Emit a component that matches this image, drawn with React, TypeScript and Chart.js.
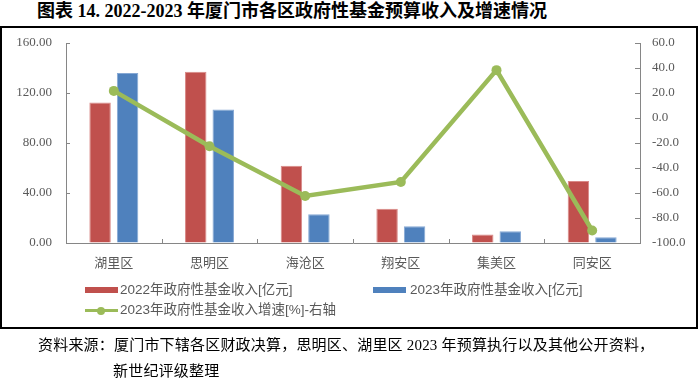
import React, { useEffect, useRef } from "react";
import { Chart, registerables } from "chart.js";

Chart.register(...registerables);

const categories = ["湖里区", "思明区", "海沧区", "翔安区", "集美区", "同安区"];
const revenue2022 = [112.4, 137.0, 61.9, 27.4, 6.8, 49.6];
const revenue2023 = [136.0, 106.8, 23.1, 13.5, 9.5, 4.7];
const growth2023 = [21.7, -22.6, -62.4, -51.2, 38.3, -90.0];

const label2022 = "2022年政府性基金收入[亿元]";
const label2023 = "2023年政府性基金收入[亿元]";
const labelGrowth = "2023年政府性基金收入增速[%]-右轴";

const RED = "#C0504D";
const BLUE = "#4F81BD";
const GREEN = "#9BBB59";
const AXIS = "#868686";
const TEXT = "#595959";

const tickPlugin = {
  id: "innerTicks",
  afterDraw(chart: any) {
    const ctx = chart.ctx;
    const { left, right, bottom } = chart.chartArea;
    ctx.save();
    ctx.strokeStyle = AXIS;
    ctx.lineWidth = 1;
    ctx.beginPath();
    const y = chart.scales.y;
    y.ticks.forEach((t: any) => {
      const py = Math.round(y.getPixelForValue(t.value)) + 0.5;
      ctx.moveTo(left, py);
      ctx.lineTo(left + 4, py);
    });
    const y1 = chart.scales.y1;
    y1.ticks.forEach((t: any) => {
      const py = Math.round(y1.getPixelForValue(t.value)) + 0.5;
      ctx.moveTo(right - 5, py);
      ctx.lineTo(right, py);
    });
    const x = chart.scales.x;
    for (let i = 1; i < categories.length; i++) {
      const px = Math.round((x.getPixelForValue(i - 1) + x.getPixelForValue(i)) / 2) + 0.5;
      ctx.moveTo(px, bottom - 4);
      ctx.lineTo(px, bottom);
    }
    ctx.stroke();
    ctx.restore();
  },
};

export default function App() {
  const ref = useRef<HTMLCanvasElement | null>(null);

  useEffect(() => {
    if (!ref.current) return;
    const chart = new Chart(ref.current, {
      type: "bar",
      data: {
        labels: categories,
        datasets: [
          {
            type: "bar",
            label: label2022,
            data: revenue2022,
            backgroundColor: RED,
            borderColor: "#D98987",
            borderWidth: 1,
            yAxisID: "y",
            order: 1,
            categoryPercentage: 0.575,
            barPercentage: 0.78,
          },
          {
            type: "bar",
            label: label2023,
            data: revenue2023,
            backgroundColor: BLUE,
            borderColor: "#86A8D4",
            borderWidth: 1,
            yAxisID: "y",
            order: 1,
            categoryPercentage: 0.575,
            barPercentage: 0.78,
          },
          {
            type: "line",
            label: labelGrowth,
            data: growth2023,
            borderColor: GREEN,
            backgroundColor: GREEN,
            borderWidth: 4.5,
            pointRadius: 5,
            pointBorderWidth: 0,
            pointBackgroundColor: GREEN,
            yAxisID: "y1",
            order: 0,
            tension: 0,
          } as any,
        ],
      },
      options: {
        animation: false,
        responsive: false,
        devicePixelRatio: 1,
        layout: { padding: { left: 6, right: 0, top: 43, bottom: 106 } },
        plugins: {
          legend: { display: false },
          tooltip: { enabled: false },
          title: { display: false },
        },
        scales: {
          x: {
            type: "category",
            offset: true,
            grid: { display: true, drawOnChartArea: false, drawTicks: false },
            border: { display: true, color: AXIS, width: 1 },
            ticks: {
              color: TEXT,
              padding: 11,
              font: { family: "'Noto Sans CJK SC', sans-serif", size: 13 },
              maxRotation: 0,
            },
            afterFit: (s: any) => {
              s.height = 30;
            },
          },
          y: {
            type: "linear",
            position: "left",
            min: 0,
            max: 160,
            grid: { display: true, drawOnChartArea: false, drawTicks: false },
            border: { display: true, color: AXIS, width: 1 },
            ticks: {
              stepSize: 40,
              color: TEXT,
              padding: 14,
              font: { family: "'Liberation Serif', serif", size: 13 },
              callback: (v: any) => Number(v).toFixed(2),
            },
            afterFit: (s: any) => {
              s.width = 60;
            },
          },
          y1: {
            type: "linear",
            position: "right",
            min: -100,
            max: 60,
            grid: { display: true, drawOnChartArea: false, drawTicks: false },
            border: { display: true, color: AXIS, width: 1 },
            ticks: {
              stepSize: 20,
              color: TEXT,
              padding: 12,
              font: { family: "'Liberation Serif', serif", size: 13 },
              callback: (v: any) => Number(v).toFixed(1),
            },
            afterFit: (s: any) => {
              s.width = 60;
            },
          },
        },
      },
      plugins: [tickPlugin],
    } as any);
    return () => chart.destroy();
  }, []);

  const legendFont = "13.5px 'Liberation Sans', 'Noto Sans CJK SC', sans-serif";
  const serifFont = "'Liberation Serif', 'Noto Sans CJK SC', serif";

  return (
    <div
      style={{
        position: "absolute",
        left: 0,
        top: 0,
        width: 700,
        height: 379,
        background: "#fff",
        overflow: "hidden",
      }}
    >
      <div
        style={{
          position: "absolute",
          left: 37,
          top: 1,
          font: `bold 18px ${serifFont}`,
          lineHeight: "20px",
          whiteSpace: "nowrap",
          color: "#000",
        }}
      >
        图表 14. 2022-2023 年厦门市各区政府性基金预算收入及增速情况
      </div>
      <div
        style={{
          position: "absolute",
          left: 0,
          top: 26,
          width: 698,
          height: 303,
          boxSizing: "border-box",
          border: "2px solid #000",
        }}
      />
      <canvas
        ref={ref}
        width={700}
        height={379}
        style={{ position: "absolute", left: 0, top: 0, width: 700, height: 379 }}
      />
      {/* legend */}
      <div style={{ position: "absolute", left: 85, top: 287, width: 33, height: 6, background: RED }} />
      <div
        style={{
          position: "absolute",
          left: 120,
          top: 281,
          font: legendFont,
          lineHeight: "18px",
          color: TEXT,
          whiteSpace: "nowrap",
        }}
      >
        {label2022}
      </div>
      <div style={{ position: "absolute", left: 373, top: 287, width: 33, height: 6, background: BLUE }} />
      <div
        style={{
          position: "absolute",
          left: 410,
          top: 281,
          font: legendFont,
          lineHeight: "18px",
          color: TEXT,
          whiteSpace: "nowrap",
        }}
      >
        {label2023}
      </div>
      <div style={{ position: "absolute", left: 85, top: 309, width: 33, height: 3, background: GREEN }} />
      <div
        style={{
          position: "absolute",
          left: 97,
          top: 306.5,
          width: 8,
          height: 8,
          borderRadius: 4,
          background: GREEN,
        }}
      />
      <div
        style={{
          position: "absolute",
          left: 120,
          top: 301,
          font: legendFont,
          lineHeight: "18px",
          color: TEXT,
          whiteSpace: "nowrap",
        }}
      >
        {labelGrowth}
      </div>
      {/* footer */}
      <div
        style={{
          position: "absolute",
          left: 38,
          top: 336,
          font: `15px ${serifFont}`,
          lineHeight: "18px",
          letterSpacing: "0.2px",
          color: "#000",
          whiteSpace: "nowrap",
        }}
      >
        资料来源：厦门市下辖各区财政决算，思明区、湖里区 2023 年预算执行以及其他公开资料，
      </div>
      <div
        style={{
          position: "absolute",
          left: 113,
          top: 362,
          font: `15px ${serifFont}`,
          lineHeight: "18px",
          letterSpacing: "0.2px",
          color: "#000",
          whiteSpace: "nowrap",
        }}
      >
        新世纪评级整理
      </div>
    </div>
  );
}
